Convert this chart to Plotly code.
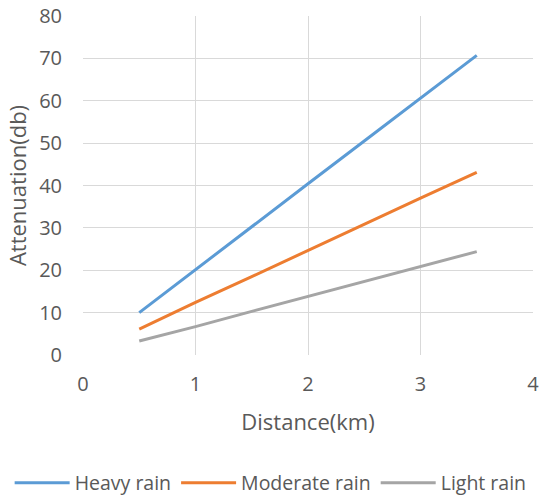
import plotly.graph_objects as go

distance = [0.5, 1.0, 1.5, 2.0, 2.5, 3.0, 3.5]
heavy_rain = [10.0, 20.2, 30.3, 40.4, 50.5, 60.6, 70.7]
moderate_rain = [6.1, 12.4, 18.5, 24.7, 30.8, 37.0, 43.1]
light_rain = [3.3, 6.7, 10.3, 13.8, 17.3, 20.9, 24.4]

series = [
    ("Heavy rain", heavy_rain, "#5B9BD5"),
    ("Moderate rain", moderate_rain, "#ED7D31"),
    ("Light rain", light_rain, "#A5A5A5"),
]

font_family = "Open Sans, Liberation Sans, sans-serif"
gray = "#595959"

fig = go.Figure()
for name, vals, color in series:
    fig.add_trace(go.Scatter(x=distance, y=vals, mode="lines", name=name,
                             line=dict(color=color, width=3)))

fig.update_layout(
    width=539, height=497,
    margin=dict(l=83, r=6, t=16, b=142, autoexpand=False),
    paper_bgcolor="white", plot_bgcolor="white",
    font=dict(family=font_family, color=gray, size=19.5),
    showlegend=True,
    legend=dict(orientation="h", x=-0.163, xanchor="left", y=-0.378, yanchor="middle",
                font=dict(size=19.5, color=gray), itemwidth=55, tracegroupgap=0),
)
fig.update_xaxes(range=[0, 4], dtick=1, showgrid=True, gridcolor="#D9D9D9", gridwidth=1,
                 zeroline=False, showline=False, ticks="", ticklabelstandoff=15,
                 ticklabeloverflow="allow", automargin=False,
                 tickfont=dict(size=20, color=gray),
                 title=dict(text="Distance(km)", font=dict(size=22, color=gray), standoff=18))
fig.update_yaxes(range=[0, 80], dtick=10, showgrid=True, gridcolor="#D9D9D9", gridwidth=1,
                 zeroline=False, showline=False, ticks="", ticklabelstandoff=20,
                 ticklabeloverflow="allow", automargin=False,
                 tickfont=dict(size=20, color=gray),
                 title=dict(text="Attenuation(db)", font=dict(size=22, color=gray), standoff=6))

fig.write_html(
    "out.html",
    config={"displayModeBar": False},
    post_script="document.body.style.margin='0';document.body.style.overflow='hidden';",
)
